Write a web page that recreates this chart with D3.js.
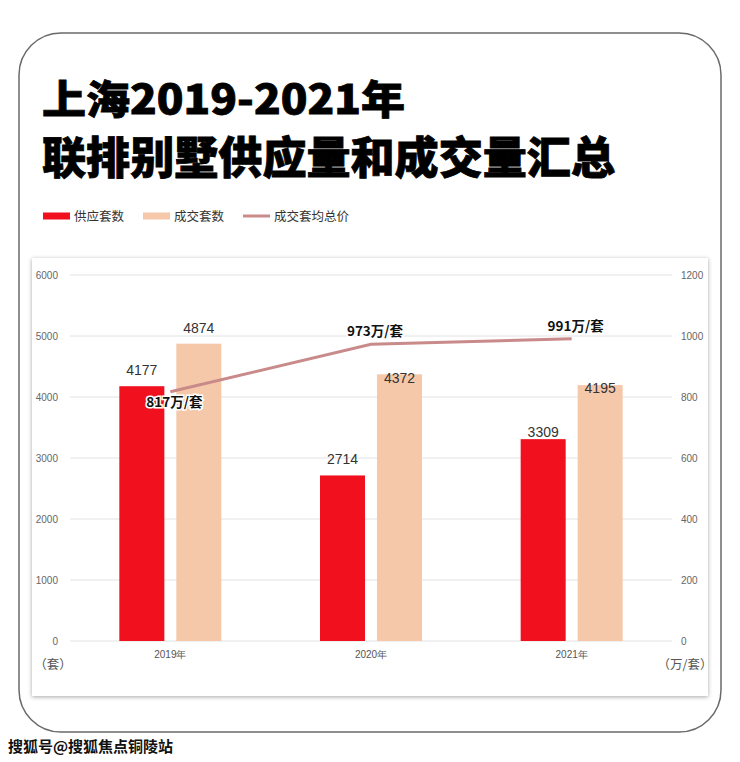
<!DOCTYPE html>
<html>
<head>
<meta charset="utf-8">
<script src="https://cdn.jsdelivr.net/npm/d3@7"></script>
<style>
body { margin: 0; background: #fff; }
svg { display: block; font-family: "Noto Sans CJK SC", "Noto Sans", sans-serif; }
</style>
</head>
<body>
<script>
// data
var years = ["2019年", "2020年", "2021年"]
var supply = [4177, 2714, 3309]       // 供应套数
var deals = [4874, 4372, 4195]        // 成交套数
var avgPrice = [817, 973, 991]        // 成交套均总价 (万/套)
var leftTicks = [0, 1000, 2000, 3000, 4000, 5000, 6000]
var rightTicks = [0, 200, 400, 600, 800, 1000, 1200]

// label nudges (layout only)
var supplyLabelDy = [-11, -11, -2]
var dealLabelDy = [-11, 9, 8]
var priceLabelDy = [15, -8, -8]

var width = 740, height = 762

var svg = d3.select("body")
.append("svg")
.attr("width", width)
.attr("height", height)

var defs = svg.append("defs")
defs.append("filter")
.attr("id", "shadow")
.attr("x", -0.05).attr("y", -0.05)
.attr("width", 1.1).attr("height", 1.1)
.append("feDropShadow")
.attr("dx", 0).attr("dy", 1)
.attr("stdDeviation", 2)
.attr("flood-color", "#000")
.attr("flood-opacity", 0.35)

//outer rounded frame
svg.append("rect")
.attr("x", 19).attr("y", 33)
.attr("width", 702).attr("height", 699)
.attr("rx", 42).attr("ry", 42)
.attr("fill", "#fff")
.attr("stroke", "#6a6a6a")
.attr("stroke-width", 1.5)

//title
var titleFont = '"Noto Sans CJK SC", sans-serif'
svg.append("text")
.attr("x", 42).attr("y", 114)
.attr("font-family", titleFont)
.attr("font-size", 40)
.attr("font-weight", 900)
.attr("stroke", "#000").attr("stroke-width", 0.8)
.attr("textLength", 363)
.attr("lengthAdjust", "spacingAndGlyphs")
.text("上海2019-2021年")

svg.append("text")
.attr("x", 42).attr("y", 174)
.attr("font-family", titleFont)
.attr("font-size", 44)
.attr("font-weight", 900)
.attr("stroke", "#000").attr("stroke-width", 0.8)
.attr("textLength", 573)
.attr("lengthAdjust", "spacingAndGlyphs")
.text("联排别墅供应量和成交量汇总")

//legend
var legendItems = [
  {name: "供应套数", color: "#f0101e", type: "rect", x: 43},
  {name: "成交套数", color: "#f5c8aa", type: "rect", x: 143},
  {name: "成交套均总价", color: "#c98a8a", type: "line", x: 243}
]
var legend = svg.selectAll(".legend")
.data(legendItems)
.enter()
.append("g")
.attr("class", "legend")
.attr("transform", function(d) { return "translate(" + d.x + ",216)" })

legend.each(function(d) {
  var g = d3.select(this)
  if (d.type == "rect") {
    g.append("rect").attr("x", 0).attr("y", -3.5).attr("width", 27).attr("height", 7).attr("fill", d.color)
  } else {
    g.append("line").attr("x1", 0).attr("x2", 27).attr("y1", 0).attr("y2", 0)
    .attr("stroke", d.color).attr("stroke-width", 3)
  }
  g.append("text")
  .attr("x", 31).attr("y", 4.5)
  .attr("font-size", 12.5)
  .attr("fill", "#333")
  .text(d.name)
})

//chart panel
svg.append("rect")
.attr("x", 32).attr("y", 258)
.attr("width", 676).attr("height", 438)
.attr("fill", "#fff")
.attr("filter", "url(#shadow)")

var x = d3.scaleBand()
.domain(years)
.range([70, 672])

var inner = d3.scaleBand()
.domain(["supply", "deal"])
.range([-51, 51])
.paddingInner(0.21)

var yLeft = d3.scaleLinear()
.domain([0, 6000])
.range([641, 275])

var yRight = d3.scaleLinear()
.domain([0, 1200])
.range([641, 275])

//gridlines
svg.append("g")
.selectAll("line")
.data(leftTicks)
.enter()
.append("line")
.attr("x1", 70).attr("x2", 672)
.attr("y1", function(d) { return yLeft(d) })
.attr("y2", function(d) { return yLeft(d) })
.attr("stroke", "#e2e2e2")
.attr("stroke-width", 1)

//left axis
var leftAxis = svg.append("g")
.attr("transform", "translate(58,0)")
.call(d3.axisLeft(yLeft).tickValues(leftTicks).tickFormat(d3.format("d")).tickSize(0).tickPadding(0))
leftAxis.select(".domain").remove()
leftAxis.selectAll("text").attr("font-size", 10).attr("fill", "#666").attr("font-family", "Liberation Sans, sans-serif")

//right axis
var rightAxis = svg.append("g")
.attr("transform", "translate(681,0)")
.call(d3.axisRight(yRight).tickValues(rightTicks).tickFormat(d3.format("d")).tickSize(0).tickPadding(0))
rightAxis.select(".domain").remove()
rightAxis.selectAll("text").attr("font-size", 10).attr("fill", "#666").attr("font-family", "Liberation Sans, sans-serif")

//x axis labels
var bottomAxis = svg.append("g")
.attr("transform", "translate(0,641)")
.call(d3.axisBottom(x).tickSize(0).tickPadding(10))
bottomAxis.select(".domain").remove()
bottomAxis.selectAll("text").attr("font-size", 10).attr("fill", "#555")

//unit labels
svg.append("text")
.attr("x", 53).attr("y", 669)
.attr("text-anchor", "middle")
.attr("font-size", 12.5).attr("fill", "#555")
.text("（套）")
svg.append("text")
.attr("x", 685).attr("y", 669)
.attr("text-anchor", "middle")
.attr("font-size", 12.5).attr("fill", "#555")
.text("（万/套）")

//bars
var rows = years.map(function(y, i) {
  return {year: y, supply: supply[i], deal: deals[i], i: i}
})

svg.selectAll(".supplyBar")
.data(rows)
.enter()
.append("rect")
.attr("class", "supplyBar")
.attr("x", function(d) { return x(d.year) + x.bandwidth()/2 + inner("supply") })
.attr("width", inner.bandwidth())
.attr("y", function(d) { return yLeft(d.supply) })
.attr("height", function(d) { return yLeft(0) - yLeft(d.supply) })
.attr("fill", "#f0101e")

svg.selectAll(".dealBar")
.data(rows)
.enter()
.append("rect")
.attr("class", "dealBar")
.attr("x", function(d) { return x(d.year) + x.bandwidth()/2 + inner("deal") })
.attr("width", inner.bandwidth())
.attr("y", function(d) { return yLeft(d.deal) })
.attr("height", function(d) { return yLeft(0) - yLeft(d.deal) })
.attr("fill", "#f5c8aa")

//bar value labels
svg.selectAll(".supplyLabel")
.data(rows)
.enter()
.append("text")
.attr("class", "supplyLabel")
.attr("x", function(d) { return x(d.year) + x.bandwidth()/2 + inner("supply") + inner.bandwidth()/2 })
.attr("y", function(d) { return yLeft(d.supply) + supplyLabelDy[d.i] })
.attr("text-anchor", "middle")
.attr("font-family", "Liberation Sans, sans-serif")
.attr("font-size", 14)
.attr("fill", "#333")
.text(function(d) { return d.supply })

svg.selectAll(".dealLabel")
.data(rows)
.enter()
.append("text")
.attr("class", "dealLabel")
.attr("x", function(d) { return x(d.year) + x.bandwidth()/2 + inner("deal") + inner.bandwidth()/2 })
.attr("y", function(d) { return yLeft(d.deal) + dealLabelDy[d.i] })
.attr("text-anchor", "middle")
.attr("font-family", "Liberation Sans, sans-serif")
.attr("font-size", 14)
.attr("fill", "#333")
.text(function(d) { return d.deal })

//average price line
var priceLine = d3.line()
.x(function(d, i) { return x(years[i]) + x.bandwidth()/2 })
.y(function(d) { return yRight(d) })

svg.append("path")
.datum(avgPrice)
.attr("d", priceLine)
.attr("fill", "none")
.attr("stroke", "#c98a8a")
.attr("stroke-width", 3)

svg.selectAll(".priceLabel")
.data(avgPrice)
.enter()
.append("text")
.attr("class", "priceLabel")
.attr("x", function(d, i) { return x(years[i]) + x.bandwidth()/2 + 4 })
.attr("y", function(d, i) { return yRight(d) + priceLabelDy[i] })
.attr("text-anchor", "middle")
.attr("font-size", 13.5)
.attr("font-weight", 700)
.attr("fill", "#111")
.attr("stroke", "#fff")
.attr("stroke-width", 3)
.attr("paint-order", "stroke")
.text(function(d) { return d + "万/套" })

//watermark
svg.append("text")
.attr("x", 8).attr("y", 752)
.attr("font-size", 15)
.attr("font-weight", 700)
.attr("fill", "#111")
.attr("stroke", "#fff")
.attr("stroke-width", 2.5)
.attr("paint-order", "stroke")
.text("搜狐号@搜狐焦点铜陵站")
</script>
</body>
</html>
